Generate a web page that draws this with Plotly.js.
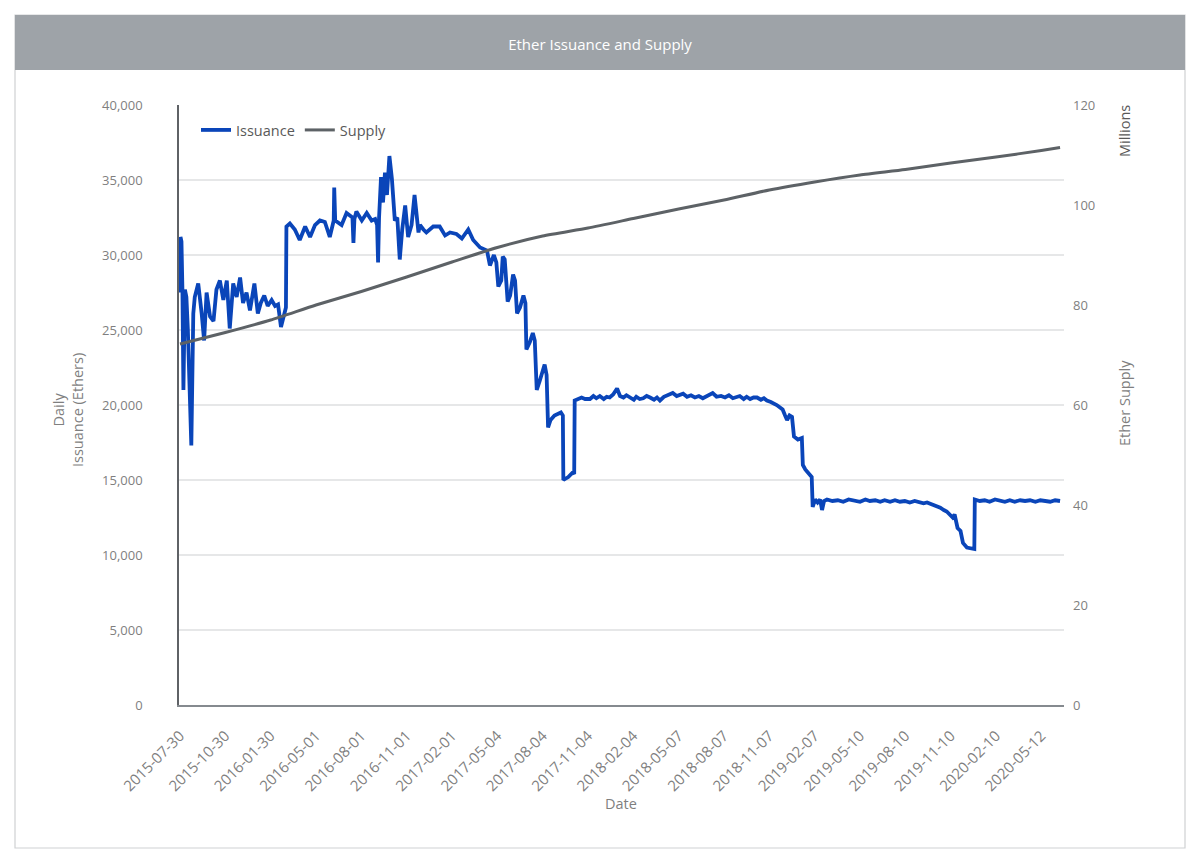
<!DOCTYPE html>
<html>
<head>
<meta charset="utf-8">
<script src="https://cdn.plot.ly/plotly-3.0.1.min.js"></script>
<style>
  html, body { margin: 0; padding: 0; background: #ffffff; }
  #chart { width: 1200px; height: 862px; }
</style>
</head>
<body>
<div id="chart"></div>
<script>
// ---- Data ----
const issuanceDates = [
  "2015-07-30","2015-07-31","2015-08-02","2015-08-04","2015-08-06","2015-08-09","2015-08-12","2015-08-15",
  "2015-08-22","2015-08-26","2015-08-29","2015-09-05","2015-09-12","2015-09-17","2015-09-22","2015-09-29",
  "2015-10-06","2015-10-12","2015-10-19","2015-10-26","2015-11-02","2015-11-08","2015-11-15","2015-11-22",
  "2015-11-29","2015-12-05","2015-12-12","2015-12-19","2015-12-28","2016-01-04","2016-01-10","2016-01-17",
  "2016-01-24","2016-02-01","2016-02-08","2016-02-14","2016-02-20","2016-02-27","2016-03-01","2016-03-02",
  "2016-03-09","2016-03-19","2016-03-29","2016-04-09","2016-04-19","2016-04-29","2016-05-09","2016-05-19",
  "2016-05-29","2016-06-06","2016-06-07","2016-06-09","2016-06-22","2016-07-02","2016-07-14","2016-07-16",
  "2016-07-18","2016-07-22","2016-08-02","2016-08-12","2016-08-22","2016-08-29","2016-09-02","2016-09-04",
  "2016-09-06","2016-09-10","2016-09-14","2016-09-18","2016-09-22","2016-09-27","2016-10-02","2016-10-08",
  "2016-10-13","2016-10-18","2016-10-23","2016-10-29","2016-11-04","2016-11-11","2016-11-17","2016-11-25",
  "2016-11-28","2016-12-05","2016-12-11","2016-12-25","2017-01-07","2017-01-18","2017-01-28","2017-02-10",
  "2017-02-21","2017-03-06","2017-03-16","2017-03-30","2017-04-13","2017-04-19","2017-04-27","2017-05-02",
  "2017-05-06","2017-05-12","2017-05-15","2017-05-19","2017-05-25","2017-05-30","2017-06-05","2017-06-09",
  "2017-06-13","2017-06-19","2017-06-26","2017-06-30","2017-07-02","2017-07-09","2017-07-15","2017-07-19",
  "2017-07-23","2017-07-29","2017-08-08","2017-08-12","2017-08-15","2017-08-20","2017-08-28","2017-09-10",
  "2017-09-14","2017-09-15","2017-09-25","2017-10-04","2017-10-07","2017-10-08","2017-10-22","2017-10-29",
  "2017-11-08","2017-11-15","2017-11-21","2017-11-28","2017-12-06","2017-12-12","2017-12-18","2017-12-25",
  "2018-01-02","2018-01-08","2018-01-15","2018-01-21","2018-01-28","2018-02-05","2018-02-10","2018-02-17",
  "2018-02-24","2018-03-03","2018-03-10","2018-03-18","2018-03-24","2018-03-30","2018-04-07","2018-04-15",
  "2018-04-25","2018-05-03","2018-05-10","2018-05-16","2018-05-24","2018-06-01","2018-06-09","2018-06-17",
  "2018-06-25","2018-07-03","2018-07-09","2018-07-15","2018-07-23","2018-08-01","2018-08-09","2018-08-17",
  "2018-08-25","2018-09-01","2018-09-08","2018-09-16","2018-09-22","2018-09-29","2018-10-06","2018-10-13",
  "2018-10-21","2018-10-27","2018-11-02","2018-11-10","2018-11-17","2018-11-22","2018-11-28","2018-12-04",
  "2018-12-09","2018-12-13","2018-12-18","2018-12-23","2018-12-27","2019-01-04","2019-01-12","2019-01-14",
  "2019-01-19","2019-01-24","2019-02-01","2019-02-03","2019-02-08","2019-02-13","2019-02-18","2019-02-22",
  "2019-02-26","2019-03-04","2019-03-15","2019-03-26","2019-04-06","2019-04-17","2019-04-30","2019-05-10",
  "2019-05-21","2019-05-30","2019-06-10","2019-06-20","2019-06-29","2019-07-10","2019-07-20","2019-07-30",
  "2019-08-09","2019-08-19","2019-08-29","2019-09-08","2019-09-16","2019-09-23","2019-10-01","2019-10-08",
  "2019-10-13","2019-10-20","2019-10-27","2019-11-02","2019-11-08","2019-11-14","2019-11-18","2019-11-24",
  "2019-11-30","2019-12-05","2019-12-13","2019-12-20","2019-12-28","2019-12-29","2020-01-08","2020-01-18",
  "2020-01-28","2020-02-08","2020-02-18","2020-02-28","2020-03-09","2020-03-19","2020-03-30","2020-04-09",
  "2020-04-19","2020-04-30","2020-05-10","2020-05-19","2020-05-30","2020-06-09","2020-06-19"
];
const issuanceValues = [
  27500,31200,30900,27600,21000,27700,27200,25000,
  17300,26100,27200,28100,26100,24300,27500,25900,
  25600,27700,28300,27000,28300,25100,28100,27200,
  28500,26800,27500,26300,28100,26100,26800,27300,
  26600,27000,26600,26700,25200,26300,26500,31900,
  32100,31700,31000,31900,31200,32000,32300,32200,
  31200,32300,34500,32300,32000,32800,32500,30800,
  32400,32900,32300,32800,32300,32400,32000,29500,
  32500,35200,33500,35500,34000,36600,35100,32300,
  32500,29700,31700,33300,31200,32000,34000,31500,
  32000,31700,31500,31900,31900,31300,31500,31400,
  31100,31700,31000,30500,30300,29300,30000,29500,
  27900,28300,29900,29700,26900,27300,28700,28300,
  26100,26500,27300,26800,23700,24200,24800,24300,
  21000,21600,22700,22000,18500,19000,19300,19500,
  19300,15000,15200,15500,15400,20300,20500,20400,
  20400,20600,20450,20600,20400,20550,20500,20700,
  21100,20600,20500,20650,20500,20350,20550,20400,
  20450,20600,20500,20350,20500,20300,20550,20650,
  20800,20600,20700,20750,20550,20650,20500,20600,
  20450,20600,20700,20800,20550,20600,20500,20650,
  20450,20550,20600,20400,20550,20400,20500,20500,
  20350,20450,20300,20200,20100,20000,19850,19700,
  19300,19000,19300,19200,17900,17700,17800,16000,
  15700,15500,15200,13200,13700,13500,13700,13000,
  13600,13700,13600,13650,13550,13700,13650,13550,
  13700,13600,13650,13550,13650,13550,13650,13550,
  13600,13500,13600,13550,13450,13500,13400,13350,
  13300,13150,13000,12900,12700,12500,12700,11800,
  11600,10800,10500,10450,10400,13700,13600,13650,
  13550,13700,13650,13550,13650,13550,13650,13600,
  13650,13550,13650,13600,13550,13650,13600
];

const supplyDates = [
  "2015-07-30","2015-10-30","2016-01-30","2016-05-01","2016-08-01","2016-11-01","2017-02-01","2017-05-04",
  "2017-08-04","2017-11-04","2018-02-04","2018-05-07","2018-08-07","2018-11-07","2019-02-07","2019-05-10",
  "2019-08-10","2019-11-10","2020-02-10","2020-05-12","2020-06-19"
];
const supplyMillions = [
  72.2,74.5,77.0,80.0,82.7,85.6,88.6,91.5,
  93.8,95.4,97.3,99.2,101.0,103.0,104.6,106.0,
  107.1,108.4,109.6,110.9,111.5
];

const tickDates = [
  "2015-07-30","2015-10-30","2016-01-30","2016-05-01","2016-08-01","2016-11-01","2017-02-01","2017-05-04",
  "2017-08-04","2017-11-04","2018-02-04","2018-05-07","2018-08-07","2018-11-07","2019-02-07","2019-05-10",
  "2019-08-10","2019-11-10","2020-02-10","2020-05-12"
];

// ---- Layout geometry helpers (plot area 179..1064 x, 105..705 y) ----
const W = 1200, H = 862;
const L = 179, R = 1064, T = 105, B = 705;
const px = v => (v - L) / (R - L);
const py = v => (B - v) / (B - T);

const FONT = '"Open Sans", "Noto Sans", sans-serif';
const GREY = '#7f7f7f';

const traces = [
  {
    x: issuanceDates, y: issuanceValues, name: 'Issuance', type: 'scatter', mode: 'lines',
    line: { color: '#0a45b9', width: 3.8 }, yaxis: 'y'
  },
  {
    x: supplyDates, y: supplyMillions, name: 'Supply', type: 'scatter', mode: 'lines',
    line: { color: '#5d6266', width: 3, shape: 'spline', smoothing: 0.6 }, yaxis: 'y2'
  }
];

const layout = {
  width: W, height: H,
  margin: { l: L, r: W - R, t: T, b: H - B, pad: 0 },
  paper_bgcolor: '#ffffff', plot_bgcolor: 'rgba(0,0,0,0)',
  font: { family: FONT, color: GREY, size: 13 },
  title: {
    text: 'Ether Issuance and Supply',
    x: 0.5, xref: 'container', y: 1 - 45 / H, yref: 'container', yanchor: 'middle',
    font: { family: FONT, color: '#ffffff', size: 15 }
  },
  showlegend: true,
  legend: {
    orientation: 'h', x: px(196), y: py(114), xanchor: 'left', yanchor: 'top',
    font: { family: FONT, color: '#595959', size: 14.5 }, bgcolor: 'rgba(0,0,0,0)',
    itemwidth: 30, tracegroupgap: 0
  },
  xaxis: {
    type: 'date', range: ['2015-07-28', '2020-06-27'],
    tickvals: tickDates, ticktext: tickDates, tickangle: -45,
    tickfont: { family: FONT, color: GREY, size: 15 },
    showgrid: false, zeroline: false,
    showline: true, linecolor: '#858a8f', linewidth: 2.2,
    ticks: '', ticklabelstandoff: 14, fixedrange: true
  },
  yaxis: {
    range: [0, 40000], tickvals: [0,5000,10000,15000,20000,25000,30000,35000,40000],
    tickformat: ',d', tickfont: { family: FONT, color: GREY, size: 13 },
    showgrid: true, gridcolor: '#e6e7e8', gridwidth: 1.5, zeroline: false,
    showline: true, linecolor: '#5f6266', linewidth: 1.8,
    ticks: '', ticklabelstandoff: 32
  },
  yaxis2: {
    range: [0, 120], tickvals: [0,20,40,60,80,100,120], overlaying: 'y', side: 'right',
    tickfont: { family: FONT, color: GREY, size: 13 },
    showgrid: false, zeroline: false, showline: false, ticks: '', ticklabelstandoff: 8
  },
  shapes: [
    { type: 'rect', xref: 'paper', yref: 'paper', layer: 'below',
      x0: px(15), x1: px(1185), y0: py(848), y1: py(15),
      fillcolor: '#ffffff', line: { color: '#cfd1d3', width: 1.2 } },
    { type: 'rect', xref: 'paper', yref: 'paper', layer: 'below',
      x0: px(15), x1: px(1185), y0: py(70), y1: py(15),
      fillcolor: '#9ea3a8', line: { width: 0 } }
  ],
  annotations: [
    { text: 'Daily<br>Issuance (Ethers)', xref: 'paper', yref: 'paper', x: px(68), y: py(410),
      showarrow: false, textangle: -90, align: 'center',
      font: { family: FONT, color: GREY, size: 14.5 }, xanchor: 'center', yanchor: 'middle' },
    { text: 'Ether Supply', xref: 'paper', yref: 'paper', x: px(1124), y: py(403),
      showarrow: false, textangle: -90, font: { family: FONT, color: GREY, size: 14.5 },
      xanchor: 'center', yanchor: 'middle' },
    { text: 'Millions', xref: 'paper', yref: 'paper', x: px(1124), y: py(131),
      showarrow: false, textangle: -90, font: { family: FONT, color: '#595959', size: 14.5 },
      xanchor: 'center', yanchor: 'middle' },
    { text: 'Date', xref: 'paper', yref: 'paper', x: px(621), y: py(803),
      showarrow: false, font: { family: FONT, color: GREY, size: 14.5 },
      xanchor: 'center', yanchor: 'middle' }
  ]
};

Plotly.newPlot('chart', traces, layout, { displayModeBar: false, staticPlot: true });
</script>
</body>
</html>
